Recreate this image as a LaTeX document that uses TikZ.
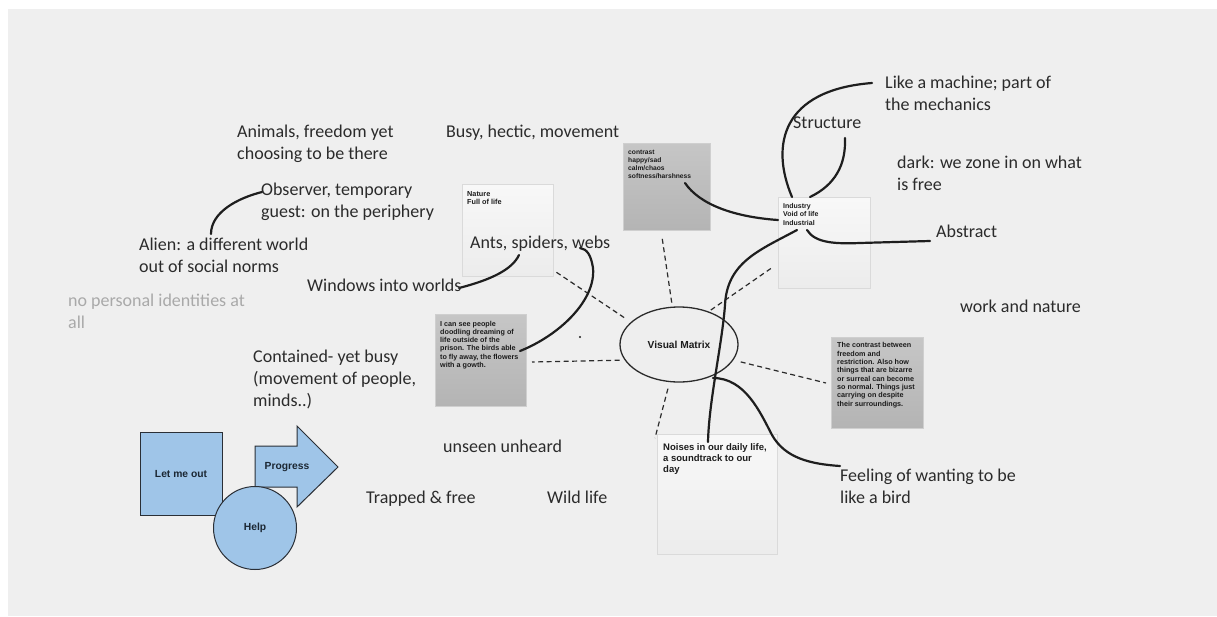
\documentclass[tikz,border=0pt]{standalone}
\usepackage{fontspec}
\setmainfont{Liberation Sans}
\newfontfamily\handfont{Carlito}
\usetikzlibrary{shapes.geometric}

\definecolor{canvas}{HTML}{EFEFEF}
\definecolor{ink}{HTML}{2B2B2B}
\definecolor{pen}{HTML}{1E1E1E}
\definecolor{faint}{HTML}{A9A9A9}
\definecolor{cardtop}{HTML}{F8F8F8}
\definecolor{cardbot}{HTML}{ECECEC}
\definecolor{rule}{HTML}{DADADA}
\definecolor{graytop}{HTML}{C6C6C6}
\definecolor{graybot}{HTML}{B4B4B4}
\definecolor{grayrule}{HTML}{CFCFCF}
\definecolor{cardink}{HTML}{1C1C1C}
\definecolor{oval}{HTML}{EEEEEE}
\definecolor{skyfill}{HTML}{9FC5E8}
\definecolor{skyline}{HTML}{2A2F36}
\definecolor{skyink}{HTML}{1B2733}

\begin{document}
% multi-line notes are placed by the baseline of their last line
\begin{tikzpicture}[x=1pt,y=-1pt,
  hand/.style={font=\handfont\fontsize{18}{22}\selectfont, text=ink, anchor=base west, inner sep=0pt, align=left},
  lightcard/.style={rectangle, draw=rule, line width=0.7pt, top color=cardtop, bottom color=cardbot, anchor=north west, inner sep=0pt},
  graycard/.style={rectangle, draw=grayrule, line width=0.7pt, top color=graytop, bottom color=graybot, anchor=north west, inner sep=0pt},
  cardtext/.style={font=\bfseries\fontsize{7.2}{8.3}\selectfont, text=cardink, anchor=base west, inner sep=0pt, align=left},
  dashline/.style={draw=ink, line width=1.2pt, dash pattern=on 5pt off 3.5pt},
  stroke/.style={draw=pen, line width=2.2pt, line cap=round},
  skyshape/.style={fill=skyfill, draw=skyline, line width=1pt},
  skytext/.style={font=\bfseries\fontsize{10.3}{12}\selectfont, text=skyink},
]
\useasboundingbox (0,0) rectangle (1217,616);
\fill[white] (0,0) rectangle (1217,616);
\fill[canvas] (8,9) rectangle (1217,616);

% cards
\node[lightcard, minimum width=91pt, minimum height=92pt] (nature) at (462,184) {};
\node[graycard, minimum width=87pt, minimum height=87pt] (contrast) at (623,143) {};
\node[lightcard, minimum width=92pt, minimum height=91pt] (industry) at (778,197) {};
\node[graycard, minimum width=91pt, minimum height=92pt] (prison) at (435,314) {};
\node[graycard, minimum width=92pt, minimum height=91pt] (between) at (831,337) {};
\node[lightcard, minimum width=120pt, minimum height=120pt] (noises) at (657,434) {};

\node[cardtext, font=\bfseries\fontsize{7.3}{8}\selectfont] (natureT) at (467,204) {Nature\\Full of life};
\node[cardtext, font=\bfseries\fontsize{6.7}{8}\selectfont] (contrastT) at (628,178.5) {contrast\\happy/sad\\calm/chaos\\softness/harshness};
\node[cardtext, font=\bfseries\fontsize{7}{8.5}\selectfont] (industryT) at (783,225) {Industry\\Void of life\\Industrial};
\node[cardtext] (prisonT) at (440,367.5) {I can see people\\doodling dreaming of\\life outside of the\\prison. The birds able\\to fly away, the flowers\\with a gowth.};
\node[cardtext] (betweenT) at (837,406) {The contrast between\\freedom and\\restriction. Also how\\things that are bizarre\\or surreal can become\\so normal. Things just\\carrying on despite\\their surroundings.};
\node[cardtext, font=\bfseries\fontsize{9.5}{11}\selectfont] (noisesT) at (663,472) {Noises in our daily life,\\a soundtrack to our\\day};

% central oval
\node[ellipse, draw=ink, line width=1.3pt, fill=oval, minimum width=118pt, minimum height=75pt, inner sep=0pt, font=\bfseries\fontsize{10.2}{12}\selectfont, text=cardink] (vm) at (679,344.5) {Visual Matrix};

% dashed spokes
\coordinate (dNat) at (556,272);
\coordinate (dCon) at (662,237);
\coordinate (dInd) at (773,267);
\coordinate (dPri) at (532,362);
\coordinate (dBet) at (826,383);
\coordinate (dNoi) at (655,438);
\draw[dashline, shorten <=8pt] (vm.155) -- (dNat);
\draw[dashline, shorten <=4pt] (vm.100) -- (dCon);
\draw[dashline, shorten <=2.5pt] (vm.48) -- (dInd);
\draw[dashline, shorten <=5pt] (vm.196) -- (dPri);
\draw[dashline, shorten <=7.5pt] (vm.-16) -- (dBet);
\draw[dashline, shorten <=6.7pt] (vm.256) -- (dNoi);

\fill[pen] (580,337) circle (1.2pt);

% hand-drawn links
\coordinate (alienTop) at (211,234);
\coordinate (observerEnd) at (262,192);
\coordinate (windowsEnd) at (459,288);
\coordinate (antsEnd) at (519,255);
\coordinate (prisonEnd) at (520,351);
\coordinate (websEnd) at (580,248);
\coordinate (contrastEnd) at (685,183);
\coordinate (industryW) at (778,220);
\coordinate (industryL) at (792,197);
\coordinate (machineEnd) at (872,83);
\coordinate (industryR) at (810,197);
\coordinate (structureEnd) at (845,138);
\coordinate (industryB) at (807,230);
\coordinate (abstractEnd) at (930,241);
\coordinate (industryC) at (797,230);
\coordinate (noisesTop) at (708,442);
\coordinate (vmFoot) at (713,378);
\coordinate (feelingEnd) at (840,466);

\draw[stroke] (alienTop) .. controls (211,212) and (238,198) .. (observerEnd);
\draw[stroke] (windowsEnd) .. controls (490,280) and (512,270) .. (antsEnd);
\draw[stroke] (prisonEnd) .. controls (560,335) and (596,300) .. (593,268) .. controls (591,255) and (587,249) .. (websEnd);
\draw[stroke] (contrastEnd) .. controls (700,205) and (735,217) .. (industryW);
\draw[stroke] (industryL) .. controls (770,145) and (782,90) .. (machineEnd);
\draw[stroke] (industryR) .. controls (835,185) and (846,165) .. (structureEnd);
\draw[stroke] (industryB) .. controls (815,243) and (835,244) .. (860,243) -- (abstractEnd);
\draw[stroke] (industryC) .. controls (760,250) and (727,262) .. (725,305) .. controls (722,345) and (709,400) .. (noisesTop);
\draw[stroke] (vmFoot) .. controls (745,378) and (760,412) .. (772,435) .. controls (785,458) and (810,464) .. (feelingEnd);

% blue shapes
\node[skyshape, rectangle, minimum width=82pt, minimum height=83pt, inner sep=0pt, skytext] (letout) at (181,473.5) {Let me out};
\filldraw[skyshape] (255,446) -- (297,446) -- (297,426) -- (338,467) -- (297,507) -- (297,487) -- (255,487) -- cycle;
\node[skytext] (progress) at (287,467) {Progress};
\node[skyshape, circle, minimum size=83pt, inner sep=0pt, skytext] (help) at (255,528) {Help};

% handwritten notes
\node[hand] (animals) at (237,159) {Animals, freedom yet\\choosing to be there};
\node[hand] (busy) at (446,137) {Busy, hectic, movement};
\node[hand] (observer) at (261,217) {Observer, temporary\\guest: on the periphery};
\node[hand] (alien) at (139,272) {Alien: a different world\\out of social norms};
\node[hand, text=faint] (noident) at (68,328) {no personal identities at\\all};
\node[hand] (windows) at (307,291) {Windows into worlds};
\node[hand] (ants) at (470,248) {Ants, spiders, webs};
\node[hand] (contained) at (253,406) {Contained- yet busy\\(movement of people,\\minds..)};
\node[hand] (unseen) at (443,452) {unseen unheard};
\node[hand] (trapped) at (366,503) {Trapped \& free};
\node[hand] (wild) at (547,503) {Wild life};
\node[hand] (machine) at (885,110) {Like a machine; part of\\the mechanics};
\node[hand] (structure) at (793,128) {Structure};
\node[hand] (dark) at (897,190) {dark: we zone in on what\\is free};
\node[hand] (abstract) at (936,237) {Abstract};
\node[hand] (worknature) at (960,312) {work and nature};
\node[hand] (feeling) at (840,503) {Feeling of wanting to be\\like a bird};
\end{tikzpicture}
\end{document}
